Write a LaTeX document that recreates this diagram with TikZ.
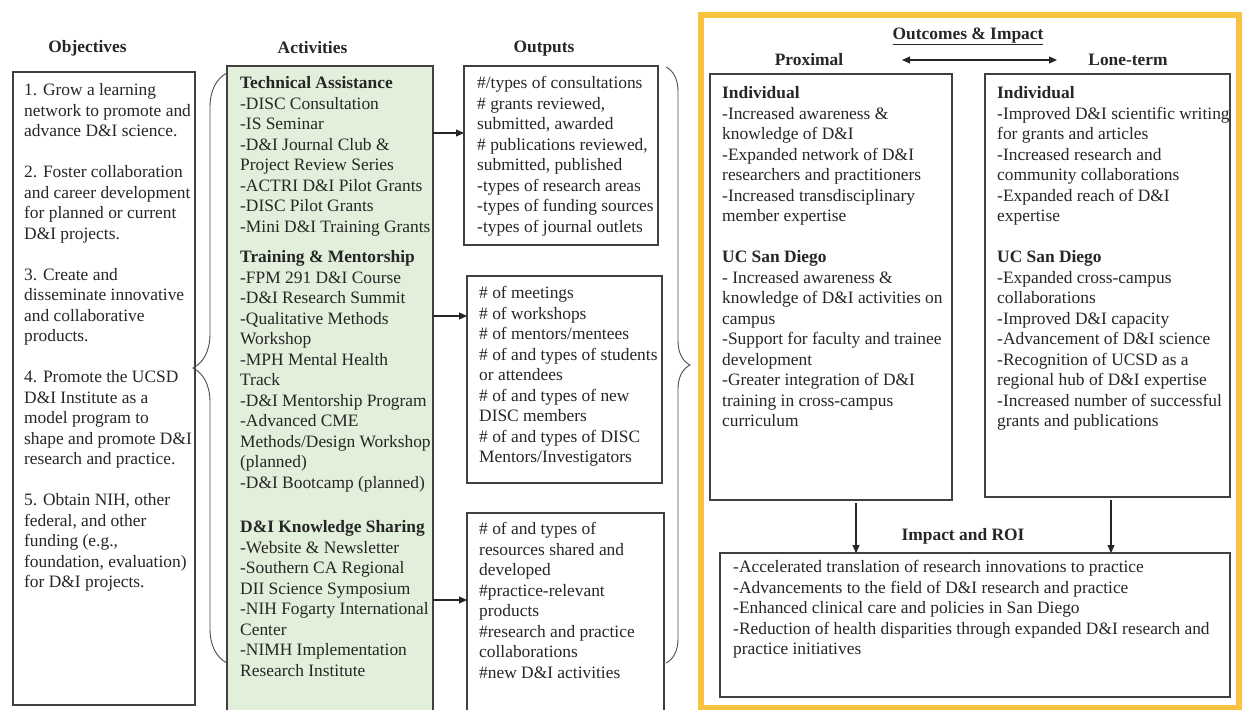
\documentclass[tikz,border=0pt]{standalone}
\usepackage{fontspec}
\setmainfont{Liberation Serif}
\usetikzlibrary{arrows.meta,decorations.pathreplacing}
\newcommand\dfont{\fontsize{17.4}{20.5}\selectfont}
\definecolor{goldframe}{RGB}{248,195,62}
\definecolor{actgreen}{RGB}{226,239,218}
\begin{document}
\begin{tikzpicture}[x=1pt,y=-1pt,
  box/.style={draw=black!75, line width=1.3pt, inner sep=0pt, outer sep=0pt, anchor=north west},
  txt/.style={font=\dfont, text=black!85, align=left, inner sep=0pt, anchor=north west},
  hdr/.style={font=\dfont\bfseries, text=black!85, inner sep=0pt, anchor=base},
  arr/.style={draw=black!85, line width=1.1pt, -{Triangle[length=8pt,width=7pt]}},
  darr/.style={draw=black!85, line width=1.1pt, {Triangle[length=8pt,width=7pt]}-{Triangle[length=8pt,width=7pt]}},
  brc/.style={draw=black!70, line width=0.9pt, decorate}
]
\useasboundingbox (0,0) rectangle (1244,709);
\fill[white] (0,0) rectangle (1244,709);

% headers
\node[hdr] (hobj) at (87.5,52.5) {Objectives};
\node[hdr] (hact) at (312.5,53.5) {Activities};
\node[hdr] (hout) at (544,52.5) {Outputs};
\node[hdr] (hoc) at (968,39.5) {\underline{Outcomes \& Impact}};
\node[hdr] (hprox) at (809,65.5) {Proximal};
\node[hdr] (hlong) at (1128,65.5) {Lone-term};
\node[hdr] (himp) at (963,540.5) {Impact and ROI};

% boxes
\node[box, minimum width=182, minimum height=633] (obj) at (13,72) {};
\node[box, fill=actgreen, minimum width=206, minimum height=650] (act) at (227,66) {};
\node[box, minimum width=194, minimum height=179] (out1) at (464,66) {};
\node[box, minimum width=195, minimum height=207] (out2) at (467,276) {};
\node[box, minimum width=197, minimum height=210] (out3) at (467,513) {};
\node[draw=goldframe, line width=6pt, inner sep=0pt, anchor=north west, minimum width=538, minimum height=693] (oc) at (698,12) {};
\node[box, minimum width=242, minimum height=426] (prox) at (710,74) {};
\node[box, minimum width=245, minimum height=423] (long) at (985,74) {};
\node[box, minimum width=510, minimum height=144] (imp) at (720,553) {};

% texts
\node[txt] (objt) at (24,81.3) {\strut 1. Grow a learning\\
network to promote and\\
advance D\&I science.\\[20.5pt]
2. Foster collaboration\\
and career development\\
for planned or current\\
D\&I projects.\\[20.5pt]
3. Create and\\
disseminate innovative\\
and collaborative\\
products.\\[20.5pt]
4. Promote the UCSD\\
D\&I Institute as a\\
model program to\\
shape and promote D\&I\\
research and practice.\\[20.5pt]
5. Obtain NIH, other\\
federal, and other\\
funding (e.g.,\\
foundation, evaluation)\\
for D\&I projects.};

\node[txt] (act1) at (240,74.3) {\strut\textbf{Technical Assistance}\\
-DISC Consultation\\
-IS Seminar\\
-D\&I Journal Club \&\\
Project Review Series\\
-ACTRI D\&I Pilot Grants\\
-DISC Pilot Grants\\
-Mini D\&I Training Grants};

\node[txt] (act2) at (240,248.3) {\strut\textbf{Training \& Mentorship}\\
-FPM 291 D\&I Course\\
-D\&I Research Summit\\
-Qualitative Methods\\
Workshop\\
-MPH Mental Health\\
Track\\
-D\&I Mentorship Program\\
-Advanced CME\\
Methods/Design Workshop\\
(planned)\\
-D\&I Bootcamp (planned)};

\node[txt] (act3) at (240,518.3) {\strut\textbf{D\&I Knowledge Sharing}\\
-Website \& Newsletter\\
-Southern CA Regional\\
DII Science Symposium\\
-NIH Fogarty International\\
Center\\
-NIMH Implementation\\
Research Institute};

\node[txt] (out1t) at (477,74.3) {\strut\#/types of consultations\\
\# grants reviewed,\\
submitted, awarded\\
\# publications reviewed,\\
submitted, published\\
-types of research areas\\
-types of funding sources\\
-types of journal outlets};

\node[txt] (out2t) at (479,284.3) {\strut\# of meetings\\
\# of workshops\\
\# of mentors/mentees\\
\# of and types of students\\
or attendees\\
\# of and types of new\\
DISC members\\
\# of and types of DISC\\
Mentors/Investigators};

\node[txt] (out3t) at (479,520.3) {\strut\# of and types of\\
resources shared and\\
developed\\
\#practice-relevant\\
products\\
\#research and practice\\
collaborations\\
\#new D\&I activities};

\node[txt] (proxt) at (722,84.3) {\strut\textbf{Individual}\\
-Increased awareness \&\\
knowledge of D\&I\\
-Expanded network of D\&I\\
researchers and practitioners\\
-Increased transdisciplinary\\
member expertise\\[20.5pt]
\textbf{UC San Diego}\\
- Increased awareness \&\\
knowledge of D\&I activities on\\
campus\\
-Support for faculty and trainee\\
development\\
-Greater integration of D\&I\\
training in cross-campus\\
curriculum};

\node[txt] (longt) at (997,84.3) {\strut\textbf{Individual}\\
-Improved D\&I scientific writing\\
for grants and articles\\
-Increased research and\\
community collaborations\\
-Expanded reach of D\&I\\
expertise\\[20.5pt]
\textbf{UC San Diego}\\
-Expanded cross-campus\\
collaborations\\
-Improved D\&I capacity\\
-Advancement of D\&I science\\
-Recognition of UCSD as a\\
regional hub of D\&I expertise\\
-Increased number of successful\\
grants and publications};

\node[txt] (impt) at (733,558.3) {\strut -Accelerated translation of research innovations to practice\\
-Advancements to the field of D\&I research and practice\\
-Enhanced clinical care and policies in San Diego\\
-Reduction of health disparities through expanded D\&I research and\\
practice initiatives};

% braces
\draw[brc, decoration={brace, amplitude=34pt}] (act.west |- 0,663) -- (act.west |- 0,73);
\draw[brc, decoration={brace, amplitude=24pt}] (666,67) -- (666,663);

% arrows
\draw[arr] (act.east |- 0,133) -- (out1.west |- 0,133);
\draw[arr] (act.east |- 0,316) -- (out2.west |- 0,316);
\draw[arr] (act.east |- 0,600) -- (out3.west |- 0,600);
\coordinate (dl) at (902,60);
\coordinate (dr) at (1057,60);
\draw[darr] (dl) -- (dr);
\draw[arr, shorten <=3pt] (prox.south -| 856,0) -- (imp.north -| 856,0);
\draw[arr, shorten <=3pt] (long.south -| 1111,0) -- (imp.north -| 1111,0);
\end{tikzpicture}
\end{document}
